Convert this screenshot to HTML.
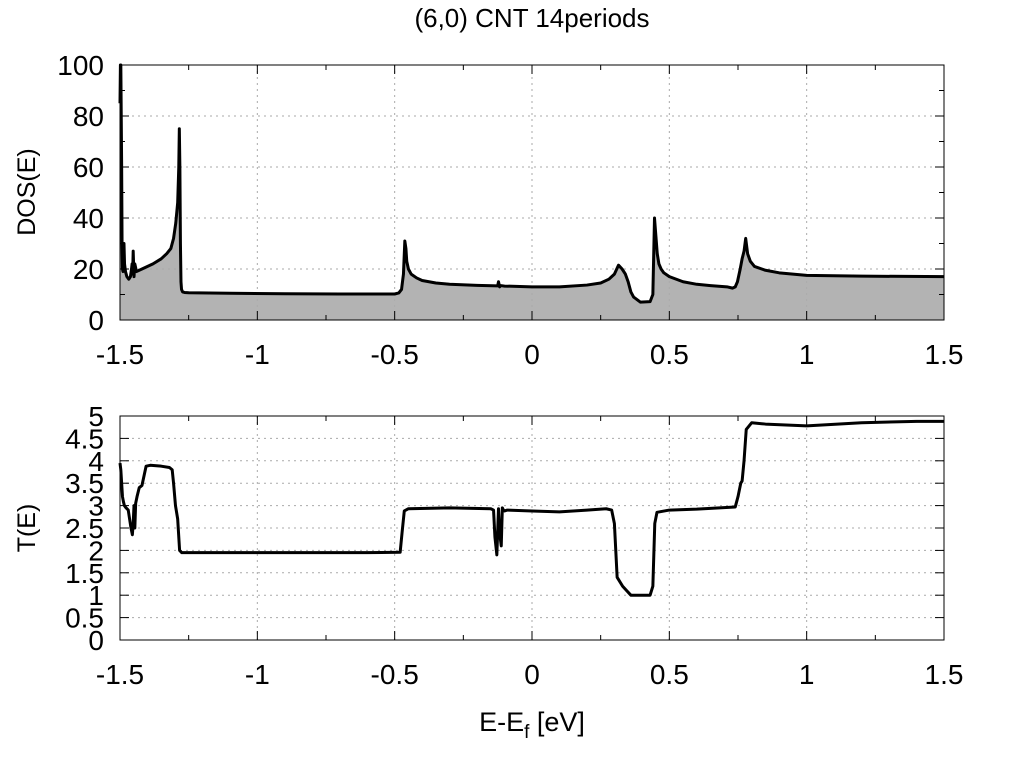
<!DOCTYPE html>
<html><head><meta charset="utf-8"><style>
body{margin:0;background:#fff}
text{font-family:"Liberation Sans",sans-serif;fill:#000}
</style></head><body>
<svg id="c" width="1024" height="768" xmlns="http://www.w3.org/2000/svg">
<text x="532" y="27" font-size="26" text-anchor="middle">(6,0) CNT 14periods</text>
<text transform="translate(35,192) rotate(-90)" font-size="25" text-anchor="middle">DOS(E)</text>
<text transform="translate(35,528) rotate(-90)" font-size="25" text-anchor="middle">T(E)</text>
<text x="532" y="731" font-size="27" text-anchor="middle">E-E<tspan font-size="19" dy="7">f</tspan><tspan dy="-7"> [eV]</tspan></text>
<g id="top"></g>
<g id="bot"></g>
</svg>
<script>
const dosE=[-1.5,-1.4985,-1.497,-1.494,-1.4925,-1.491,-1.489,-1.487,-1.4855,-1.4835,-1.48,-1.475,-1.468,-1.462,-1.458,-1.456,-1.454,-1.452,-1.449,-1.446,-1.44,-1.42,-1.38,-1.35,-1.33,-1.315,-1.305,-1.297,-1.29,-1.286,-1.284,-1.282,-1.28,-1.278,-1.276,-1.272,-1.265,-1.25,-1.1,-0.9,-0.7,-0.5,-0.485,-0.475,-0.468,-0.463,-0.459,-0.456,-0.45,-0.44,-0.42,-0.4,-0.35,-0.3,-0.2,-0.125,-0.122,-0.118,-0.114,-0.1,0,0.1,0.2,0.25,0.28,0.3,0.315,0.328,0.34,0.35,0.36,0.37,0.395,0.43,0.44,0.446,0.451,0.456,0.462,0.47,0.48,0.5,0.55,0.6,0.65,0.71,0.73,0.74,0.748,0.758,0.765,0.772,0.778,0.785,0.795,0.81,0.85,0.9,1.0,1.2,1.5];
const dosV=[85,100,100,60,30,20,19,25,30,22,19,17,16,17,20,22,18,27,17,22,19,20,22,24,26,28,32,38,46,60,75,60,30,15,12,11,10.8,10.7,10.5,10.3,10.2,10.2,10.6,12,18,31,28,23,20,18,16.5,15.5,14.5,14,13.6,13.4,15,13,13.5,13.3,13,13,13.7,14.5,16,18,21.5,20,18,15,11,9,7,7.2,10,40,33,26,22,20,18.5,17,15,14,13.5,13,12.5,13,15,20,24,27,32,26,23,21,19.5,18.5,17.5,17.2,17];
const tE=[-1.5,-1.497,-1.494,-1.491,-1.488,-1.484,-1.478,-1.47,-1.465,-1.46,-1.455,-1.452,-1.449,-1.446,-1.443,-1.438,-1.43,-1.42,-1.405,-1.39,-1.35,-1.32,-1.31,-1.305,-1.298,-1.29,-1.283,-1.275,-1.2,-1.0,-0.6,-0.48,-0.473,-0.465,-0.45,-0.3,-0.15,-0.14,-0.135,-0.128,-0.122,-0.118,-0.112,-0.108,-0.104,-0.1,-0.09,0,0.1,0.2,0.27,0.29,0.3,0.31,0.33,0.345,0.36,0.38,0.43,0.44,0.447,0.455,0.5,0.6,0.74,0.75,0.76,0.765,0.772,0.78,0.8,0.85,1.0,1.2,1.4,1.5];
const tV=[3.95,3.8,3.5,3.2,3.1,3.0,2.95,2.9,2.7,2.5,2.35,2.6,3.0,2.5,3.05,3.2,3.4,3.45,3.88,3.9,3.88,3.85,3.8,3.5,3.0,2.7,2.0,1.95,1.95,1.95,1.95,1.96,2.4,2.88,2.93,2.95,2.93,2.9,2.3,1.9,2.93,2.4,2.1,2.95,2.9,2.88,2.9,2.88,2.86,2.9,2.93,2.9,2.6,1.4,1.2,1.1,1.0,1.0,1.0,1.2,2.6,2.85,2.9,2.92,2.97,3.2,3.5,3.55,4.0,4.7,4.85,4.82,4.78,4.85,4.88,4.88];
const xTicks=[-1.5,-1,-0.5,0,0.5,1,1.5];
const xTickLabels=["-1.5","-1","-0.5","0","0.5","1","1.5"];
const dosTicks=[0,20,40,60,80,100];
const tTicks=[0,0.5,1,1.5,2,2.5,3,3.5,4,4.5,5];
const tTickLabels=["0","0.5","1","1.5","2","2.5","3","3.5","4","4.5","5"];
const NS="http://www.w3.org/2000/svg";
const X0=120,X1=944;
const xs=e=>X0+(e+1.5)/3*(X1-X0);
function mk(p,t,a){const el=document.createElementNS(NS,t);for(const k in a)el.setAttribute(k,a[k]);p.appendChild(el);return el;}
function panel(g,top,bot,ymax,yt,ylab,minorY,E,V,fill,pfx){
  const ys=v=>bot-v/ymax*(bot-top);
  if(fill){let d=`M${xs(E[0])},${bot}`;E.forEach((e,i)=>d+=`L${xs(e)},${ys(V[i])}`);d+=`L${xs(E[E.length-1])},${bot}Z`;
    const f=mk(g,'path',{d,fill:'#b3b3b3',stroke:'none'});
    
    }
  xTicks.forEach((t,i)=>{const x=xs(t);
    if(i>0&&i<xTicks.length-1)mk(g,'line',{x1:x,x2:x,y1:top,y2:bot,stroke:'#aaa','stroke-dasharray':'2,4','stroke-width':1});
    mk(g,'line',{x1:x,x2:x,y1:bot,y2:bot-9,stroke:'#000'});mk(g,'line',{x1:x,x2:x,y1:top,y2:top+9,stroke:'#000'});
    const tx=mk(g,'text',{x:x,y:bot+44,'font-size':28,'text-anchor':'middle'});tx.textContent=xTickLabels[i];
    
    });
  for(let t=-1.25;t<1.5;t+=0.5){const x=xs(t);mk(g,'line',{x1:x,x2:x,y1:bot,y2:bot-5,stroke:'#000'});mk(g,'line',{x1:x,x2:x,y1:top,y2:top+5,stroke:'#000'});}
  yt.forEach((t,i)=>{const y=ys(t);
    if(i>0&&i<yt.length-1)mk(g,'line',{x1:X0,x2:X1,y1:y,y2:y,stroke:'#aaa','stroke-dasharray':'2,4','stroke-width':1});
    mk(g,'line',{x1:X0,x2:X0+9,y1:y,y2:y,stroke:'#000'});mk(g,'line',{x1:X1,x2:X1-9,y1:y,y2:y,stroke:'#000'});
    const tx=mk(g,'text',{x:104,y:y+10,'font-size':28,'text-anchor':'end'});tx.textContent=ylab[i];
    
    });
  if(minorY)for(let t=minorY;t<ymax;t+=minorY*2){const y=ys(t);mk(g,'line',{x1:X0,x2:X0+5,y1:y,y2:y,stroke:'#000'});mk(g,'line',{x1:X1,x2:X1-5,y1:y,y2:y,stroke:'#000'});}
  let d='';E.forEach((e,i)=>d+=(i?'L':'M')+xs(e)+','+ys(V[i]));
  const ln=mk(g,'path',{d,fill:'none',stroke:'#000','stroke-width':3,'stroke-linejoin':'round'});
  
  
  mk(g,'rect',{x:X0,y:top,width:X1-X0,height:bot-top,fill:'none',stroke:'#000','stroke-width':1});
}
panel(document.getElementById('top'),65,320,100,dosTicks,dosTicks.map(String),10,dosE,dosV,true,'dos');
panel(document.getElementById('bot'),416,640,5,tTicks,tTickLabels,0,tE,tV,false,'transmission');
</script>
</body></html>
